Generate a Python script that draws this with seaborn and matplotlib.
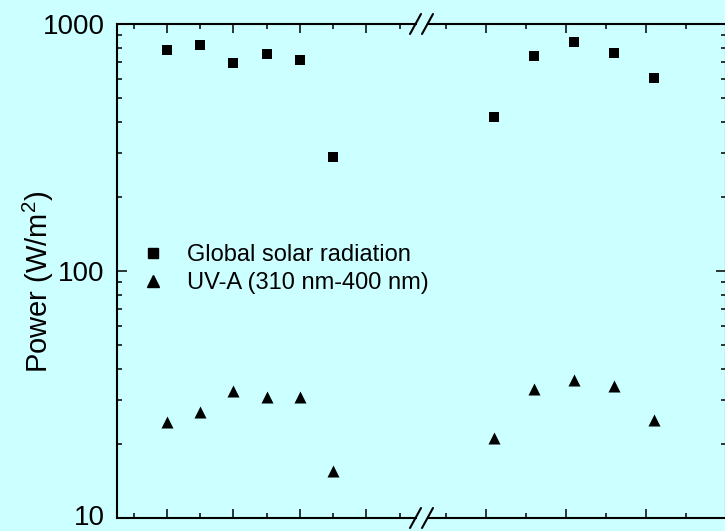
import pandas as pd
import numpy as np
import matplotlib
matplotlib.use('Agg')
import matplotlib.pyplot as plt
import matplotlib.transforms as mtransforms
import seaborn as sns
from matplotlib.ticker import LogLocator, FixedLocator, NullFormatter
from matplotlib.lines import Line2D

# data (x in hours, no labels shown on the axis)
left_x = [10.0, 10.5, 11.0, 11.5, 12.0, 12.5]
left_global = [785, 822, 693, 754, 713, 290]
left_uva = [24.5, 26.9, 32.7, 30.9, 30.9, 15.5]

right_x = [14.1, 14.6, 15.1, 15.6, 16.1]
right_global = [421, 741, 843, 764, 603]
right_uva = [21.1, 33.2, 36.2, 34.2, 25.0]

lab_g = 'Global solar radiation'
lab_u = 'UV-A (310 nm-400 nm)'

df_l = pd.concat([pd.DataFrame({'x': left_x, 'Power': left_global, 'series': lab_g}),
                  pd.DataFrame({'x': left_x, 'Power': left_uva, 'series': lab_u})])
df_r = pd.concat([pd.DataFrame({'x': right_x, 'Power': right_global, 'series': lab_g}),
                  pd.DataFrame({'x': right_x, 'Power': right_uva, 'series': lab_u})])

sns.set_style('ticks')
plt.rcParams['font.family'] = ['Liberation Sans', 'DejaVu Sans']
plt.rcParams['mathtext.fontset'] = 'custom'
plt.rcParams['mathtext.rm'] = 'Liberation Sans'
plt.rcParams['text.color'] = 'black'
plt.rcParams['axes.labelcolor'] = 'black'
plt.rcParams['xtick.color'] = 'black'
plt.rcParams['ytick.color'] = 'black'

bg = '#CCFFFF'
W, H = 725, 531
fig = plt.figure(figsize=(W / 100, H / 100), dpi=100, facecolor=bg)

y_top, y_bot = 24, 518
x_l0, x_l1 = 117, 416
x_r0, x_r1 = 428, 726
axl = fig.add_axes([x_l0 / W, 1 - y_bot / H, (x_l1 - x_l0) / W, (y_bot - y_top) / H])
axr = fig.add_axes([x_r0 / W, 1 - y_bot / H, (x_r1 - x_r0) / W, (y_bot - y_top) / H])

markers = {lab_g: 's', lab_u: '^'}
sizes = {lab_g: 52, lab_u: 75}
for ax, d in [(axl, df_l), (axr, df_r)]:
    for name, g in d.groupby('series'):
        sns.scatterplot(data=g, x='x', y='Power', marker=markers[name], s=sizes[name],
                        color='black', edgecolor='black', linewidth=0, ax=ax, legend=False)
    ax.set_facecolor(bg)
    ax.set_yscale('log')
    ax.set_ylim(10, 1000)
    ax.set_xlabel('')
    ax.set_ylabel('')
    for sp in ax.spines.values():
        sp.set_linewidth(1.5)
        sp.set_color('black')
    ax.tick_params(axis='both', which='both', direction='in', width=1.1,
                   color='black', labelcolor='black')
    ax.tick_params(axis='x', which='major', length=6.5, top=True, bottom=True, labelbottom=False)
    ax.tick_params(axis='x', which='minor', length=3.6, top=True, bottom=True)
    ax.tick_params(axis='y', which='major', length=7.2)
    ax.tick_params(axis='y', which='minor', length=3.6)
    ax.yaxis.set_minor_locator(LogLocator(base=10, subs=np.arange(2, 10)))
    ax.yaxis.set_minor_formatter(NullFormatter())

axl.set_xlim(9.25, 13.746)
axl.xaxis.set_major_locator(FixedLocator([10, 11, 12, 13]))
axl.xaxis.set_minor_locator(FixedLocator([9.5, 10.5, 11.5, 12.5, 13.5]))
axl.spines['right'].set_visible(False)
axl.tick_params(axis='y', which='both', left=True, right=False, labelsize=20, pad=9)
axl.set_yticks([10, 100, 1000])
axl.set_yticklabels(['10', '100', '1000'])
# nudge the bottom label up a little so it stays inside the figure
lbl10 = axl.get_yticklabels()[0]
lbl10.set_transform(lbl10.get_transform() +
                    mtransforms.ScaledTranslation(0, 3 / 100, fig.dpi_scale_trans))

axr.set_xlim(13.275, 17.0)
axr.xaxis.set_major_locator(FixedLocator([14, 15, 16, 17]))
axr.xaxis.set_minor_locator(FixedLocator([13.5, 14.5, 15.5, 16.5]))
axr.spines['left'].set_visible(False)
axr.tick_params(axis='y', which='both', left=False, right=True, labelleft=False, labelright=False)

fig.text(38 / W, 1 - 282 / H, 'Power (W/m$^\\mathregular{2}$)', rotation=90,
         ha='center', va='center', fontsize=21, color='black')

# axis break marks
for yc in (y_top, y_bot):
    for x0 in (410, 422):
        fig.add_artist(Line2D([x0 / W, (x0 + 11) / W], [1 - (yc + 10) / H, 1 - (yc - 10) / H],
                              color='black', lw=1.5))

handles = [Line2D([], [], ls='', marker='s', ms=7.2, color='black'),
           Line2D([], [], ls='', marker='^', ms=8.7, color='black')]
axl.legend(handles, [lab_g, lab_u], loc='upper left', frameon=False, fontsize=17,
           handlelength=1.0, handletextpad=0.95, labelspacing=0.25, borderpad=0,
           borderaxespad=0, bbox_to_anchor=(141 / W, 1 - 244 / H),
           bbox_transform=fig.transFigure, labelcolor='black')

plt.savefig('out.png', dpi=100, facecolor=bg)
